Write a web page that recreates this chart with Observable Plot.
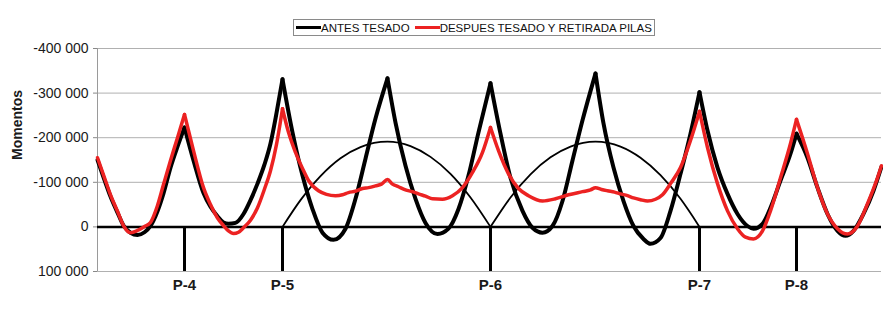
<!DOCTYPE html>
<html>
<head>
<meta charset="utf-8">
<script src="https://cdn.jsdelivr.net/npm/d3@7"></script>
<script src="https://cdn.jsdelivr.net/npm/@observablehq/plot@0.6"></script>
<style>
  html, body { margin: 0; padding: 0; background: #fff; }
  body { width: 883px; height: 309px; overflow: hidden; font-family: "Liberation Sans", Arial, sans-serif; }
  #legend { position: relative; height: 40px; width: 883px; }
  #legend .box { position: absolute; left: 293px; top: 19px; height: 15px; border: 1px solid #8a8a8a;
    display: flex; align-items: center; font-size: 11.5px; color: #111; white-space: nowrap; padding-right: 2px; }
  #legend .sw { display: inline-block; width: 25px; height: 3px; }
  #chart svg g[aria-label="y-axis"] line, #chart svg g[aria-label="y-axis tick"] { stroke: #888; }
</style>
</head>
<body>
<div id="legend"></div>
<div id="chart"></div>
<script>
// Series names and colours
const series = ["ANTES TESADO", "DESPUES TESADO Y RETIRADA PILAS"];
const colors = ["#000000", "#ec2222"];

// Piers
const pilas = ["P-4", "P-5", "P-6", "P-7", "P-8"];
const xPilas = [21.75, 46.25, 98.25, 150.5, 174.75];

// Y ticks
const yTicks = [-400000, -300000, -200000, -100000, 0, 100000];

// ANTES TESADO (abscisa, momento)
const xAntes = [0,1.75,3.25,5,6.5,8.25,10,11.75,13.25,15,16.5,18.25,20,21.75,
  24,26.5,28.25,30,31.5,32.75,34.5,36.5,38.25,40,41.75,43.25,44.75,46.25,
  48.75,51.25,53.75,56.25,59,62,64.5,67,69.5,72.5,
  74.5,77,79.5,82,85,87.75,90.25,92.75,95.25,98.25,
  100.75,103.25,106.25,108.75,111.25,113.75,116.25,118.75,121.25,124.5,
  126.5,129,131.5,134,136.5,138.25,140.75,143.25,145.75,148.25,150.5,
  152.5,155,157.5,160,162.5,164,166.25,168.25,170.75,173.25,174.75,
  177.5,180,182.5,185,187,189,191.5,194,196];
const mAntes = [-150000,-105000,-68000,-32000,-3000,13000,18000,12000,-2000,-35000,-75000,-133000,-180000,-223000,
  -149000,-76000,-45000,-24000,-10000,-7000,-9000,-29000,-60000,-97000,-140000,-187000,-255000,-331000,
  -212000,-115000,-40000,13000,29000,4000,-63000,-153000,-243000,-333000,
  -234000,-137000,-63000,-9000,16000,4000,-40000,-115000,-212000,-322000,
  -209000,-110000,-36000,2000,13000,-2000,-58000,-149000,-239000,-344000,
  -232000,-133000,-58000,-2000,27000,38000,25000,-36000,-119000,-209000,-302000,
  -216000,-133000,-74000,-29000,-2000,4000,-7000,-43000,-104000,-164000,-209000,
  -155000,-88000,-29000,9000,20000,9000,-29000,-81000,-135000];
const cuspAntes = [21.75, 46.25, 72.5, 98.25, 124.5, 150.5, 174.75];

// DESPUES TESADO Y RETIRADA PILAS
const xDespues = [0,1.75,3.25,5,6.5,8.25,10,11.75,13.25,15,16.5,18.25,20,21.75,
  24,26.5,28.25,30,31.5,32.75,34,35.25,36.5,38.25,40,41.75,43.25,44.75,46.25,
  47.75,49.5,51.25,52.75,55.25,57.25,59.5,61.25,62.75,64.5,66.25,67.75,69.5,71,72.5,73.75,75.25,77,78.75,80.25,82,83.75,86.25,88.75,91.25,93.75,96.25,98.25,
  100.25,102.75,105.25,107.75,111.25,114.5,117.75,121.25,123.25,124.5,126,127.5,129.25,130.75,132.5,134,135.75,137.5,139.5,141.25,143.25,145.75,148.25,150.5,
  152.5,155,157.5,160,162,164,166.25,168.25,170.75,173.25,174.75,
  177.5,180,182.5,185,187.5,190,192.5,195,196];
const mDespues = [-155000,-110000,-72000,-35000,-3000,13000,8000,-1000,-10000,-48000,-95000,-149000,-200000,-252000,
  -171000,-88000,-50000,-20000,-3000,9000,15000,12000,2000,-15000,-43000,-85000,-126000,-185000,-265000,
  -212000,-167000,-131000,-104000,-81000,-73000,-70000,-72000,-77000,-80000,-86000,-88000,-92000,-96000,-106000,-96000,-90000,-83000,-79000,-74000,-69000,-63000,-62000,-70000,-88000,-122000,-167000,-223000,
  -171000,-119000,-86000,-70000,-58000,-63000,-72000,-79000,-83000,-88000,-84000,-81000,-78000,-74000,-70000,-65000,-61000,-58000,-62000,-72000,-97000,-133000,-194000,-259000,
  -178000,-97000,-36000,4000,23000,27000,9000,-36000,-110000,-187000,-241000,
  -164000,-88000,-29000,4000,16000,-2000,-52000,-110000,-137000];
const cuspDespues = [21.75, 46.25, 98.25, 150.5, 174.75];

// Thin arcs (isostatic moments) in the central spans
const xArco1 = [46.25,50.75,55.75,60.75,65.75,72.5,78.25,83.25,88.25,93.25,98.25];
const mArco1 = [0,-60000,-114000,-154000,-179000,-191000,-181000,-157000,-119000,-66000,0];
const xArco2 = [98.25,103.25,108.25,113.25,118.25,124.5,130.75,135.75,140.75,145.75,150.5];
const mArco2 = [0,-66000,-118000,-156000,-180000,-191000,-180000,-155000,-116000,-63000,0];

function segments(xs, ms, cusps, name) {
  const rows = [];
  let seg = 0;
  xs.forEach((x, i) => {
    rows.push({x, m: ms[i], seg: name + seg});
    if (cusps.includes(x)) { seg++; rows.push({x, m: ms[i], seg: name + seg}); }
  });
  return rows;
}
const antes = segments(xAntes, mAntes, cuspAntes, "a");
const despues = segments(xDespues, mDespues, cuspDespues, "d");
const arcos = [
  ...xArco1.map((x, i) => ({x, m: mArco1[i], seg: "arc1"})),
  ...xArco2.map((x, i) => ({x, m: mArco2[i], seg: "arc2"}))
];

const fmt = v => (v < 0 ? "-" : "") + d3.format(",")(Math.abs(v)).replace(/,/g, " ");

// Legend
const box = document.createElement("div");
box.className = "box";
series.forEach((s, i) => {
  const sw = document.createElement("span");
  sw.className = "sw";
  sw.style.background = colors[i];
  sw.style.marginLeft = i === 0 ? "2px" : "5px";
  const t = document.createElement("span");
  t.textContent = s;
  box.appendChild(sw);
  box.appendChild(t);
});
document.getElementById("legend").appendChild(box);

const chart = Plot.plot({
  width: 883,
  height: 269,
  marginLeft: 97,
  marginRight: 2,
  marginTop: 8,
  marginBottom: 38,
  style: {fontFamily: "'Liberation Sans', Arial, sans-serif", fontSize: "14px", color: "#1a1a1a", background: "#fff", overflow: "visible"},
  x: {domain: [0, 196], axis: null},
  y: {domain: [-400000, 100000], reverse: true, ticks: yTicks, tickFormat: fmt, tickSize: 4, tickPadding: 5, label: null},
  marks: [
    Plot.ruleY(yTicks, {stroke: "#b0b0b0", strokeWidth: 1}),
    Plot.ruleX([0], {stroke: "#9a9a9a", strokeWidth: 1}),
    Plot.line(arcos, {x: "x", y: "m", z: "seg", stroke: "#000", strokeWidth: 1.8, curve: "monotone-x"}),
    Plot.ruleY([0], {stroke: "#000", strokeWidth: 2.5}),
    Plot.ruleX(xPilas, {y1: 0, y2: 100000, stroke: "#000", strokeWidth: 3}),
    Plot.line(antes, {x: "x", y: "m", z: "seg", stroke: colors[0], strokeWidth: 4, curve: "monotone-x"}),
    Plot.line(despues, {x: "x", y: "m", z: "seg", stroke: colors[1], strokeWidth: 3.5, curve: "monotone-x"}),
    Plot.text(pilas, {x: xPilas, text: pilas, frameAnchor: "bottom", dy: 18, fontSize: 15, fontWeight: "bold", fill: "#1a1a1a"}),
    Plot.text(["Momentos"], {text: d => d, frameAnchor: "left", dx: -80, rotate: -90, fontSize: 14, fontWeight: "bold", fill: "#1a1a1a"})
  ]
});
document.getElementById("chart").appendChild(chart);
</script>
</body>
</html>
